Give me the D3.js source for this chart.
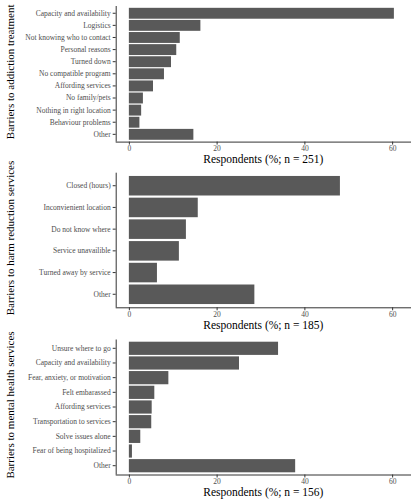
<!DOCTYPE html>
<html>
<head>
<meta charset="utf-8">
<script src="https://cdn.jsdelivr.net/npm/d3@7"></script>
<style>
  html, body { margin: 0; padding: 0; background: #fff; }
  svg { display: block; }
  text { font-family: "Liberation Serif", "Times New Roman", serif; }
</style>
</head>
<body>
<svg id="chart" width="412" height="500"></svg>
<script>
// ---- Data ----
const addictionCategories = ["Capacity and availability", "Logistics", "Not knowing who to contact", "Personal reasons", "Turned down", "No compatible program", "Affording services", "No family/pets", "Nothing in right location", "Behaviour problems", "Other"];
const addictionValues = [60.4, 16.3, 11.6, 10.8, 9.6, 8.0, 5.5, 3.2, 2.8, 2.4, 14.7];

const harmCategories = ["Closed (hours)", "Inconvienient location", "Do not know where", "Service unavailible", "Turned away by service", "Other"];
const harmValues = [48.1, 15.7, 13.0, 11.4, 6.4, 28.6];

const mentalCategories = ["Unsure where to go", "Capacity and availability", "Fear, anxiety, or motivation", "Felt embarassed", "Affording services", "Transportation to services", "Solve issues alone", "Fear of being hospitalized", "Other"];
const mentalValues = [34.0, 25.1, 9.0, 5.8, 5.2, 5.1, 2.6, 0.7, 37.9];

const xTicks = [0, 20, 40, 60];
const yTitles = ["Barriers to addiction treatment", "Barriers to harm reduction services", "Barriers to mental health services"];
const xTitles = ["Respondents (%; n = 251)", "Respondents (%; n = 185)", "Respondents (%; n = 156)"];

// ---- Layout ----
const svg = d3.select("#chart");
const plotLeft = 115.7, plotRight = 411;
const panels = [
  { cats: addictionCategories, vals: addictionValues, top: 6.0, bottom: 141.6 },
  { cats: harmCategories, vals: harmValues, top: 172.7, bottom: 307.3 },
  { cats: mentalCategories, vals: mentalValues, top: 339.5, bottom: 474.5 }
];

const x = d3.scaleLinear().domain([-3, 64.3]).range([plotLeft, plotRight]);

panels.forEach((p, i) => {
  const g = svg.append("g");
  const y = d3.scaleBand().domain(p.cats).range([p.top, p.bottom])
    .paddingInner(0.1).paddingOuter(0.15);

  // bars
  g.selectAll("rect.bar").data(p.cats.map((c, j) => ({ c, v: p.vals[j] })))
    .enter().append("rect")
    .attr("class", "bar")
    .attr("x", x(0))
    .attr("y", d => y(d.c))
    .attr("width", d => x(d.v) - x(0))
    .attr("height", y.bandwidth())
    .attr("fill", "#595959");

  // y axis
  const yAxis = g.append("g").attr("transform", `translate(${plotLeft},0)`)
    .call(d3.axisLeft(y).tickSize(3).tickPadding(2).tickSizeOuter(0));
  yAxis.select(".domain").attr("stroke", "#333").attr("stroke-width", 1)
    .attr("d", `M0.5,${p.top}V${p.bottom}`);
  yAxis.selectAll(".tick line").attr("stroke", "#333");
  yAxis.selectAll(".tick text").attr("fill", "#4d4d4d").style("font-size", "7.5px");

  // x axis
  const xAxis = g.append("g").attr("transform", `translate(0,${p.bottom})`)
    .call(d3.axisBottom(x).tickValues(xTicks).tickSize(3).tickPadding(1).tickSizeOuter(0));
  xAxis.select(".domain").attr("stroke", "#333").attr("stroke-width", 1)
    .attr("d", `M${plotLeft},0.5H${plotRight}`);
  xAxis.selectAll(".tick line").attr("stroke", "#333");
  xAxis.selectAll(".tick text").attr("fill", "#4d4d4d").style("font-size", "7.5px");

  // x title
  g.append("text")
    .attr("x", (plotLeft + plotRight) / 2)
    .attr("y", p.bottom + 21.8)
    .attr("text-anchor", "middle")
    .style("font-size", "11.5px")
    .attr("fill", "#000")
    .text(xTitles[i]);

  // y title
  g.append("text")
    .attr("transform", `translate(14,${(p.top + p.bottom) / 2 - 2}) rotate(-90)`)
    .attr("text-anchor", "middle")
    .style("font-size", "11px")
    .attr("fill", "#000")
    .text(yTitles[i]);
});
</script>
</body>
</html>
